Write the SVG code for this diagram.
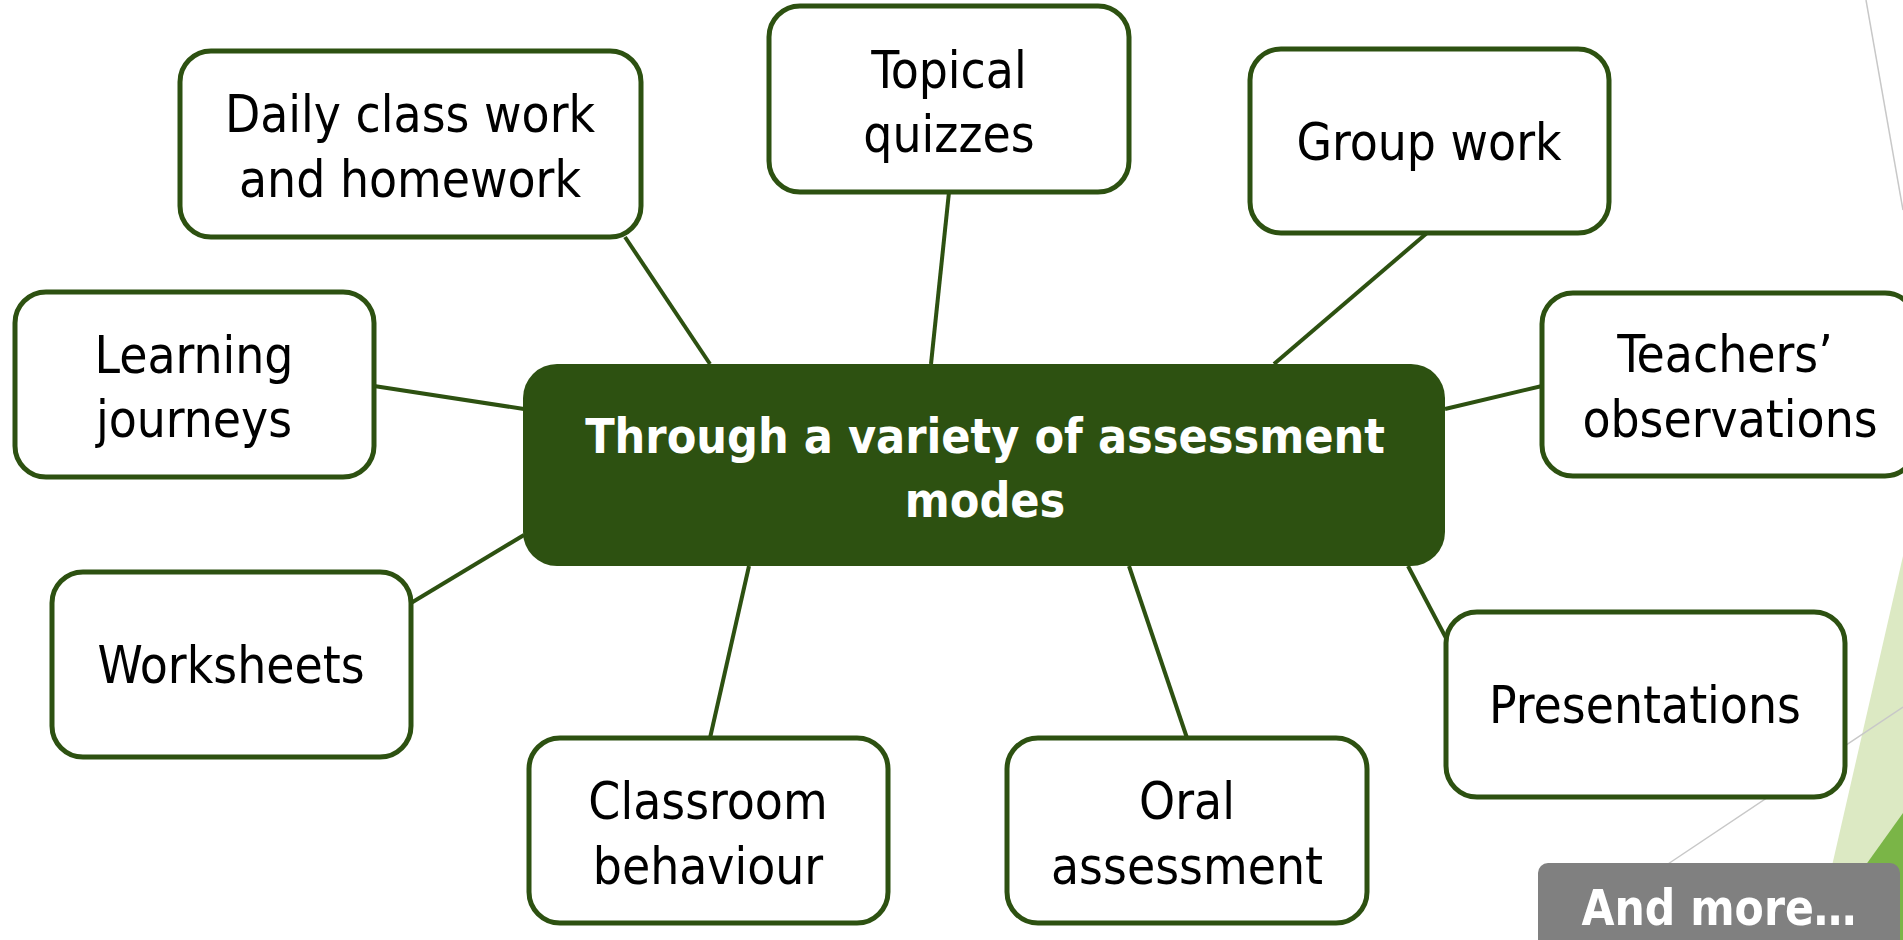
<svg xmlns="http://www.w3.org/2000/svg" width="1903" height="940" viewBox="0 0 1903 940">
  <style>
    .bg-line { stroke: #c8c8c8; stroke-width: 1.5; fill: none; }
    .link { stroke: #2d5111; stroke-width: 4; fill: none; }
    .box { fill: #ffffff; stroke: #2d5111; stroke-width: 5; }
    .hub { fill: #2d5111; }
    .lbl { font-family: "DejaVu Sans Condensed", "DejaVu Sans", sans-serif; font-stretch: condensed; font-size: 51px; fill: #000000; text-anchor: middle; }
    .hub-lbl { font-family: "DejaVu Sans Condensed", "DejaVu Sans", sans-serif; font-stretch: condensed; font-weight: bold; font-size: 48px; fill: #ffffff; text-anchor: middle; }
    .more { fill: #808080; }
    .more-lbl { font-family: "DejaVu Sans Condensed", "DejaVu Sans", sans-serif; font-stretch: condensed; font-weight: bold; font-size: 50px; fill: #ffffff; text-anchor: middle; }
  </style>

  <rect width="1903" height="940" fill="#ffffff"/>

  <!-- slide theme decoration, bottom right -->
  <g id="decor">
    <line class="bg-line" x1="1866" y1="0" x2="1903" y2="210"/>
    <polygon points="1903,556 1815,940 1903,940" fill="#dce9c3"/>
    <polygon points="1903,813 1812,940 1903,940" fill="#7ab547"/>
    <line class="bg-line" x1="1903" y1="707" x2="1650" y2="876"/>
  </g>

  <!-- spokes from the central mode box -->
  <g id="connectors">
    <line class="link" x1="710" y1="364" x2="625" y2="237"/>
    <line class="link" x1="931" y1="364" x2="949" y2="192"/>
    <line class="link" x1="1274" y1="364" x2="1427" y2="233"/>
    <line class="link" x1="524" y1="409" x2="374" y2="386"/>
    <line class="link" x1="1445" y1="409" x2="1542" y2="386"/>
    <line class="link" x1="524" y1="535" x2="411" y2="603"/>
    <line class="link" x1="749" y1="566" x2="710" y2="738"/>
    <line class="link" x1="1129" y1="566" x2="1187" y2="738"/>
    <line class="link" x1="1408" y1="566" x2="1446" y2="638"/>
  </g>

  <g id="node-center">
    <rect class="hub" x="523" y="364" width="922" height="202" rx="34" ry="34"/>
    <text class="hub-lbl" x="985" y="453">Through a variety of assessment</text>
    <text class="hub-lbl" x="985" y="517">modes</text>
  </g>

  <g id="node-daily">
    <rect class="box" x="180" y="51" width="461" height="186" rx="31" ry="31"/>
    <text class="lbl" x="410" y="132">Daily class work</text>
    <text class="lbl" x="410" y="197">and homework</text>
  </g>

  <g id="node-topical">
    <rect class="box" x="769" y="6" width="360" height="186" rx="31" ry="31"/>
    <text class="lbl" x="949" y="88">Topical</text>
    <text class="lbl" x="949" y="152">quizzes</text>
  </g>

  <g id="node-group">
    <rect class="box" x="1250" y="49" width="359" height="184" rx="31" ry="31"/>
    <text class="lbl" x="1429" y="160">Group work</text>
  </g>

  <g id="node-learning">
    <rect class="box" x="15" y="292" width="359" height="185" rx="31" ry="31"/>
    <text class="lbl" x="194" y="373">Learning</text>
    <text class="lbl" x="194" y="437">journeys</text>
  </g>

  <g id="node-teachers">
    <rect class="box" x="1542" y="293" width="374" height="183" rx="31" ry="31"/>
    <text class="lbl" x="1725" y="372">Teachers’</text>
    <text class="lbl" x="1730" y="437">observations</text>
  </g>

  <g id="node-worksheets">
    <rect class="box" x="52" y="572" width="359" height="185" rx="31" ry="31"/>
    <text class="lbl" x="231" y="683">Worksheets</text>
  </g>

  <g id="node-classroom">
    <rect class="box" x="529" y="738" width="359" height="185" rx="31" ry="31"/>
    <text class="lbl" x="708" y="819">Classroom</text>
    <text class="lbl" x="708" y="884">behaviour</text>
  </g>

  <g id="node-oral">
    <rect class="box" x="1007" y="738" width="360" height="185" rx="31" ry="31"/>
    <text class="lbl" x="1187" y="819">Oral</text>
    <text class="lbl" x="1187" y="884">assessment</text>
  </g>

  <g id="node-presentations">
    <rect class="box" x="1446" y="612" width="399" height="185" rx="31" ry="31"/>
    <text class="lbl" x="1645" y="723">Presentations</text>
  </g>

  <g id="node-more">
    <rect class="more" x="1538" y="863" width="362" height="90" rx="10" ry="10"/>
    <text class="more-lbl" x="1719" y="925" textLength="275" lengthAdjust="spacingAndGlyphs">And more…</text>
  </g>
</svg>
